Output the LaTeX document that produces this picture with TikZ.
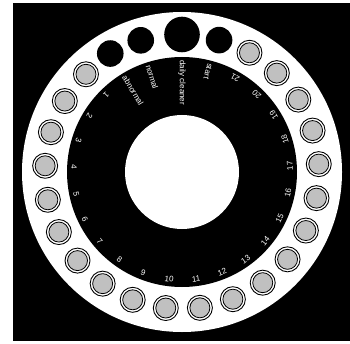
\documentclass[tikz,border=0pt]{standalone}
\usepackage{fontspec}
\setmainfont{Liberation Sans}
\definecolor{pillgray}{RGB}{192,192,192}
\begin{document}
\begin{tikzpicture}[x=1pt,y=1pt,
  lbl/.style={text=white,font=\fontsize{8}{9}\selectfont,inner sep=0pt},
  pillout/.style={draw=black,line width=0.9pt,fill=white},
  pillin/.style={draw=black,line width=0.8pt,fill=pillgray},
  hole/.style={fill=black}]
\useasboundingbox (0,0) rectangle (350,343);
\fill[black] (13,2.5) rectangle (350,339.5);
\coordinate (c) at (182,171);
\fill[white] (c) circle (160pt);
\fill[black] (c) circle (115pt);
\fill[white] (c) circle (57pt);
\foreach \n in {1,...,21}{
  \pgfmathsetmacro\a{134.5+14.3*(\n-1)}
  \draw[pillout] ([shift={(\a:137pt)}]c) circle (12.5pt);
  \draw[pillin] ([shift={(\a:137pt)}]c) circle (10pt);
  \node[lbl,rotate=\a+90] (n\n) at ([shift={(\a:108pt)}]c) {\n};
}
\fill[hole] ([shift={(74.3:137pt)}]c) circle (13.3pt);
\fill[hole] ([shift={(90:137.5pt)}]c) circle (17.8pt);
\fill[hole] ([shift={(107.4:138pt)}]c) circle (13.3pt);
\fill[hole] ([shift={(121.2:138.5pt)}]c) circle (13.3pt);
\node[lbl,anchor=west,rotate=255.5] (lstart) at ([shift={(75.5:112pt)}]c) {start};
\node[lbl,anchor=west,rotate=270] (ldaily) at ([shift={(90:112pt)}]c) {daily cleaner};
\node[lbl,anchor=west,rotate=287.5] (lnormal) at ([shift={(107.5:112pt)}]c) {normal};
\node[lbl,anchor=west,rotate=301] (labnormal) at ([shift={(121:112pt)}]c) {abnormal};
\end{tikzpicture}
\end{document}
